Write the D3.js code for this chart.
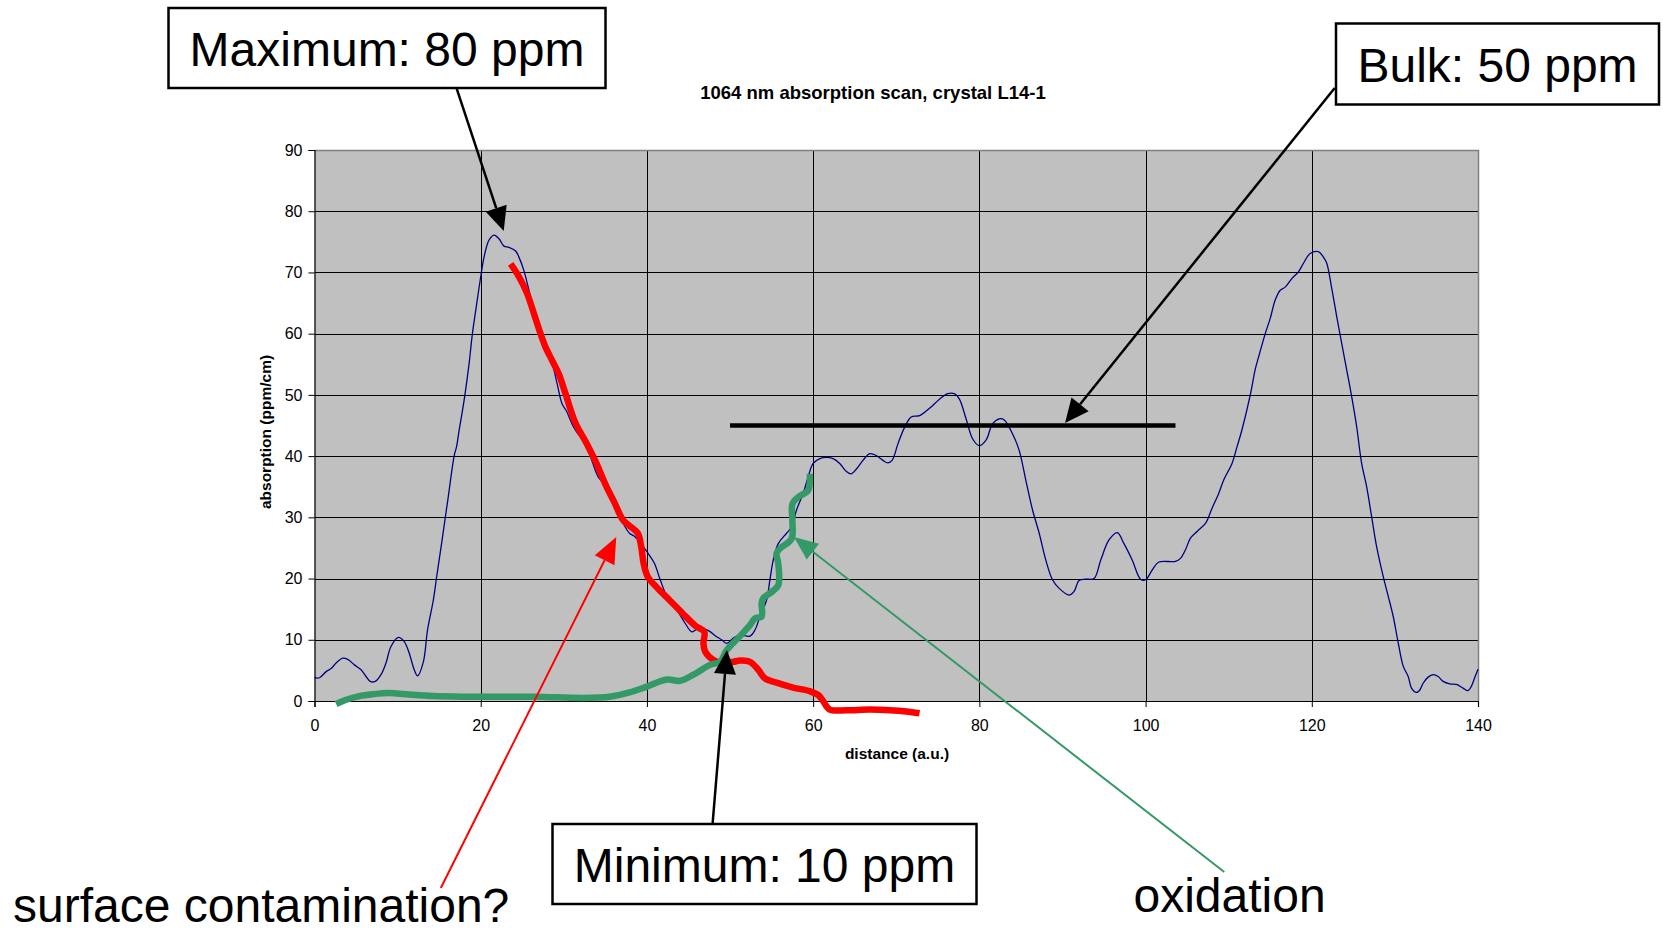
<!DOCTYPE html>
<html>
<head>
<meta charset="utf-8">
<script src="https://cdn.jsdelivr.net/npm/d3@7"></script>
<style>
  html, body { margin: 0; padding: 0; background: #fff; }
  svg { display: block; font-family: "Liberation Sans", Arial, sans-serif; }
</style>
</head>
<body>
<svg id="chart" width="1663" height="933"></svg>
<script>
// ---------------- DATA ----------------
const chartTitle = "1064 nm absorption scan, crystal L14-1";
const xAxisTitle = "distance (a.u.)";
const yAxisTitle = "absorption (ppm/cm)";
const xTicks = [0, 20, 40, 60, 80, 100, 120, 140];
const yTicks = [0, 10, 20, 30, 40, 50, 60, 70, 80, 90];

// measured absorption scan (distance, ppm/cm)
const scanX = [0.0,0.6,1.4,2.0,2.6,3.4,4.0,4.8,5.6,6.2,6.7,7.3,8.0,8.6,9.2,10.1,10.8,11.4,12.0,12.4,13.1,13.6,14.3,14.7,15.3,15.7,16.1,16.8,17.1,17.4,17.8,18.1,18.6,19.0,19.4,20.0,20.4,21.0,21.6,22.2,22.8,23.4,24.2,24.6,25.2,25.6,26.2,27.0,28.0,28.6,29.2,29.8,30.3,31.2,32.7,34.1,34.7,36.1,37.1,37.9,38.5,39.5,40.1,40.9,41.6,42.4,43.6,44.6,45.4,46.0,47.2,48.4,49.0,49.6,50.4,51.2,52.4,53.0,53.6,54.4,54.8,55.2,55.8,56.8,57.4,58.0,58.8,59.4,60.0,60.8,61.6,62.4,63.2,64.0,64.6,65.2,66.0,66.8,67.6,68.4,69.0,69.5,70.2,71.0,71.8,72.8,74.0,75.2,76.2,77.0,77.6,78.4,79.2,80.0,80.8,81.6,82.4,83.0,84.0,84.8,85.6,86.4,87.2,88.0,88.8,89.6,90.8,91.4,92.0,92.8,93.8,94.6,95.6,96.6,97.4,98.4,99.4,100.0,100.8,101.6,103.6,104.2,104.8,105.4,106.2,107.2,108.0,108.8,109.4,110.4,111.0,111.6,112.6,113.2,113.6,114.4,115.0,115.6,116.2,116.8,117.6,118.4,119.0,119.8,120.8,121.4,121.8,122.4,123.0,123.6,124.2,124.8,125.4,126.0,126.6,127.2,127.8,128.6,129.2,129.8,130.4,131.0,131.6,132.0,132.6,133.0,133.4,134.0,134.6,135.2,135.8,136.6,137.4,138.2,138.8,139.2,139.6,140.0];
const scanY = [3.8,3.8,4.8,5.3,6.2,7.0,6.8,5.9,5.1,4.0,3.2,3.2,4.3,6.2,8.9,10.4,9.7,7.8,5.1,4.1,6.4,11.6,16.5,20.3,25.8,29.6,33.4,40.0,41.6,44.2,47.4,50.0,55.1,60.0,63.8,69.3,72.5,75.3,76.1,75.5,74.3,74.1,73.5,72.5,70.3,68.2,64.9,60.5,56.7,55.1,51.8,48.5,47.4,44.7,41.6,36.7,35.6,31.8,29.1,27.4,26.9,25.3,24.2,22.5,19.8,17.1,14.9,12.7,11.3,11.7,11.6,10.5,10.0,9.4,10.3,10.8,10.6,11.6,13.8,16.5,19.8,23.0,25.7,27.4,28.4,31.2,33.9,36.6,38.8,39.6,39.8,39.6,38.8,37.5,37.1,37.9,39.3,40.4,40.1,39.3,38.9,39.3,42.0,44.7,46.4,46.6,47.8,49.3,50.2,50.2,49.3,46.1,42.8,41.7,42.6,45.3,46.1,45.9,43.6,40.9,36.0,31.2,27.4,23.0,19.8,18.4,17.3,17.9,19.7,19.9,20.0,23.0,26.3,27.5,25.7,23.0,19.9,19.8,21.4,22.7,22.8,23.3,24.7,26.6,27.7,29.0,31.5,33.9,36.1,38.8,41.5,44.3,50.0,54.2,56.2,60.0,62.5,65.5,67.1,67.6,69.0,70.1,71.5,73.1,73.4,72.5,71.5,67.4,62.8,58.4,54.1,49.7,44.8,38.8,35.0,30.1,25.2,20.3,17.1,13.8,9.5,5.7,4.0,2.1,1.4,1.8,2.9,3.9,4.3,4.0,3.2,2.8,2.7,2.1,1.7,2.4,3.8,5.2];

// hand-drawn "surface contamination" trace (red)
const surfX = [23.6,24.6,25.6,26.4,27.2,27.8,28.6,29.4,30.2,31.4,32.7,33.9,35.1,36.1,37.1,37.9,38.9,39.3,39.6,40.1,41.3,42.7,44.3,45.9,46.9,46.8,47.0,48.0,49.2,50.4,51.2,52.4,53.4,54.2,55.6,57.6,59.6,60.6,61.2,62.0,64.0,66.8,69.2,71.2,72.8];
const surfY = [71.4,69.3,66.5,63.3,60.0,57.8,55.6,53.4,50.2,45.4,42.2,38.9,35.1,32.4,29.6,28.6,27.4,25.3,22.5,20.3,18.4,16.5,14.3,12.2,11.3,9.4,8.1,6.7,6.2,6.4,6.6,6.4,5.1,3.7,3.0,2.2,1.6,1.0,0.0,-1.4,-1.5,-1.4,-1.5,-1.7,-2.0];

// hand-drawn "oxidation" trace (green)
const oxX = [2.6,3.8,5.4,7.0,9.0,11.0,14.3,18.3,26.3,32.3,35.5,37.9,39.9,42.4,44.0,45.6,47.6,48.8,49.6,51.2,52.4,53.0,53.8,53.8,54.0,54.8,55.8,55.8,55.6,56.0,57.4,57.5,57.5,58.2,59.4,59.6,59.6];
const oxY = [-0.5,0.2,0.8,1.1,1.3,1.1,0.8,0.7,0.7,0.5,0.7,1.4,2.3,3.5,3.3,4.3,5.9,6.4,8.3,10.6,12.4,13.5,13.8,16.0,16.8,17.6,18.9,22.5,24.1,24.9,26.5,29.5,32.2,33.3,34.4,35.8,37.1];

// bulk level line
const bulkLevel = 45;
const bulkRange = [50, 103.6];

// annotation arrows: [fromX, fromY, toX, toY] in data units
const arrowNames = ["max", "bulk", "min", "surface", "oxidation"];
const arrowFrom = [[17.12, 99.97], [122.76, 100.13], [47.91, -19.93], [15.2, -30.55], [109.47, -27.93]];
const arrowTo   = [[22.77, 76.77], [90.31, 45.41], [49.63, 8.33], [36.31, 26.79], [57.69, 26.79]];

const boxTexts = ["Maximum: 80 ppm", "Bulk: 50 ppm", "Minimum: 10 ppm"];
const freeTexts = ["surface contamination?", "oxidation"];

// ---------------- LAYOUT ----------------
const W = 1663, H = 933;
const plot = { left: 314.5, right: 1478, top: 150, bottom: 701 };

const svg = d3.select("#chart");
svg.append("rect").attr("width", W).attr("height", H).attr("fill", "#fff");

const x = d3.scaleLinear().domain([0, 140]).range([plot.left, plot.right]);
const y = d3.scaleLinear().domain([0, 90]).range([plot.bottom, plot.top]);

// plot background
svg.append("rect")
  .attr("x", plot.left).attr("y", plot.top)
  .attr("width", plot.right - plot.left).attr("height", plot.bottom - plot.top)
  .attr("fill", "#c0c0c0");

// gridlines
const grid = svg.append("g").attr("stroke", "#000").attr("stroke-width", 1).attr("shape-rendering", "crispEdges");
grid.selectAll("line.h").data(yTicks.filter(d => d > 0 && d < 90)).join("line")
  .attr("x1", plot.left).attr("x2", plot.right)
  .attr("y1", d => Math.round(y(d)) + 0.5).attr("y2", d => Math.round(y(d)) + 0.5);
grid.selectAll("line.v").data(xTicks.filter(d => d > 0 && d < 140)).join("line")
  .attr("y1", plot.top).attr("y2", plot.bottom)
  .attr("x1", d => Math.round(x(d)) + 0.5).attr("x2", d => Math.round(x(d)) + 0.5);

// plot border (top / right grey)
svg.append("path")
  .attr("d", `M${plot.left},${plot.top + 0.5}H${Math.round(plot.right) + 0.5}V${plot.bottom}`)
  .attr("fill", "none").attr("stroke", "#808080").attr("stroke-width", 1.5);

// axes
const xAxis = d3.axisBottom(x).tickValues(xTicks).tickSize(6).tickPadding(4).tickFormat(d3.format("d"));
const yAxis = d3.axisLeft(y).tickValues(yTicks).tickSize(6).tickPadding(6).tickFormat(d3.format("d"));

const gx = svg.append("g").attr("transform", `translate(0,${plot.bottom})`).call(xAxis);
const gy = svg.append("g").attr("transform", `translate(${plot.left},0)`).call(yAxis);
[gx, gy].forEach(g => {
  g.select(".domain").attr("stroke", "#000").attr("stroke-width", 1.2);
  g.selectAll(".tick line").attr("stroke", "#000");
  g.selectAll(".tick text").attr("fill", "#000")
    .style("font-family", "'Liberation Sans', Arial, sans-serif").style("font-size", "16px");
});
gx.selectAll(".tick text").attr("y", 16).attr("dy", "0.85em");

// titles
svg.append("text").attr("x", 873).attr("y", 99)
  .attr("text-anchor", "middle").style("font-weight", "bold").style("font-size", "18.5px")
  .text(chartTitle);
svg.append("text").attr("x", 897).attr("y", 759)
  .attr("text-anchor", "middle").style("font-weight", "bold").style("font-size", "15.5px")
  .text(xAxisTitle);
svg.append("text").attr("transform", "translate(271,432) rotate(-90)")
  .attr("text-anchor", "middle").style("font-weight", "bold").style("font-size", "15.5px")
  .text(yAxisTitle);

// lines
const line = d3.line().x(d => x(d[0])).y(d => y(d[1])).curve(d3.curveCatmullRom.alpha(0.5));

const scan = scanX.map((v, i) => [v, scanY[i]]);
const surf = surfX.map((v, i) => [v, surfY[i]]);
const ox = oxX.map((v, i) => [v, oxY[i]]);

svg.append("path").datum(scan).attr("d", line)
  .attr("fill", "none").attr("stroke", "#000080").attr("stroke-width", 1.3);

svg.append("path").datum(surf).attr("d", line)
  .attr("fill", "none").attr("stroke", "#ff0000").attr("stroke-width", 6.5)
  .attr("stroke-linejoin", "round");

svg.append("path").datum(ox).attr("d", line)
  .attr("fill", "none").attr("stroke", "#339966").attr("stroke-width", 6.5)
  .attr("stroke-linejoin", "round");

// bulk line
svg.append("line")
  .attr("x1", x(bulkRange[0])).attr("x2", x(bulkRange[1]))
  .attr("y1", y(bulkLevel)).attr("y2", y(bulkLevel))
  .attr("stroke", "#000").attr("stroke-width", 4.5);

// arrows
const arrowColor = ["#000", "#000", "#000", "#ff0000", "#339966"];
const arrowWidth = [2.5, 2.5, 2.5, 2, 2];
const headLen = [24, 24, 24, 26, 24];
const headHalf = [11, 11, 11, 11, 10];

arrowNames.forEach((name, i) => {
  const x1 = x(arrowFrom[i][0]), y1 = y(arrowFrom[i][1]);
  const x2 = x(arrowTo[i][0]), y2 = y(arrowTo[i][1]);
  const ang = Math.atan2(y2 - y1, x2 - x1);
  const bx = x2 - headLen[i] * Math.cos(ang), by = y2 - headLen[i] * Math.sin(ang);
  svg.append("line").attr("x1", x1).attr("y1", y1).attr("x2", bx).attr("y2", by)
    .attr("stroke", arrowColor[i]).attr("stroke-width", arrowWidth[i]);
  const px = -Math.sin(ang) * headHalf[i], py = Math.cos(ang) * headHalf[i];
  svg.append("path")
    .attr("d", `M${x2},${y2}L${bx + px},${by + py}L${bx - px},${by - py}Z`)
    .attr("fill", arrowColor[i]);
});

// boxes
const boxLayout = [
  { x: 168.5, y: 8, w: 437, h: 80 },
  { x: 1336, y: 23.5, w: 323, h: 81 },
  { x: 552.5, y: 824, w: 424, h: 80 }
];
boxTexts.forEach((t, i) => {
  const b = boxLayout[i];
  svg.append("rect").attr("x", b.x).attr("y", b.y).attr("width", b.w).attr("height", b.h)
    .attr("fill", "#fff").attr("stroke", "#000").attr("stroke-width", 2.5);
  svg.append("text").attr("x", b.x + b.w / 2).attr("y", b.y + b.h / 2 + 17.5)
    .attr("text-anchor", "middle").style("font-size", "48px").attr("fill", "#000").text(t);
});

const freeLayout = [{ x: 13, y: 922 }, { x: 1133.5, y: 912 }];
freeTexts.forEach((t, i) => {
  svg.append("text").attr("x", freeLayout[i].x).attr("y", freeLayout[i].y)
    .style("font-size", "48px").attr("fill", "#000").text(t);
});
</script>
</body>
</html>
